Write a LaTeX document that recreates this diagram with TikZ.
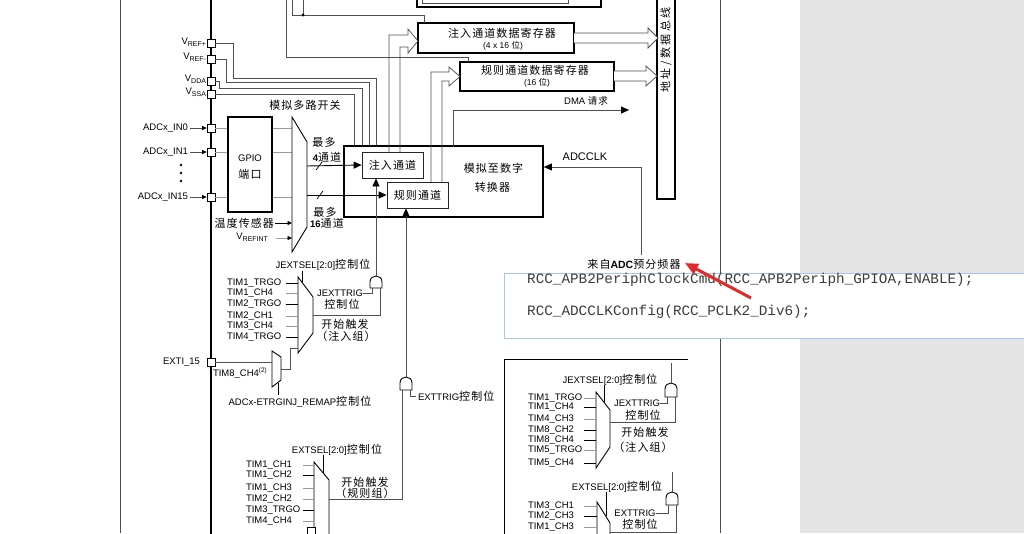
\documentclass[tikz,border=0pt]{standalone}
\usepackage{fontspec}
\setmainfont{Liberation Sans}
\newfontfamily\cjk[LetterSpace=10]{Noto Sans CJK SC}
\newfontfamily\codefont{Liberation Mono}
\usetikzlibrary{arrows.meta,calc}
\definecolor{wirec}{HTML}{505050}
\definecolor{lightw}{HTML}{9A9A9A}
\definecolor{bggray}{HTML}{E4E4E4}
\definecolor{codeborder}{HTML}{A8C6EC}
\definecolor{codetext}{HTML}{3C3C3C}
\definecolor{redarrow}{HTML}{E22A2A}
\newcommand{\labf}{\fontsize{9.5}{11}\selectfont}
\newcommand{\ck}[1]{{\cjk\fontsize{11}{12}\selectfont #1}}
\newcommand{\cks}[1]{{\cjk #1}}
\newcommand{\subx}[1]{\raisebox{-2.2pt}{\fontsize{7}{8}\selectfont #1}}
\newcommand{\supx}[1]{\raisebox{3.2pt}{\fontsize{6.5}{7}\selectfont #1}}
\newcommand{\andgate}[3]{\draw[gates] (#1-6,#3) -- (#1-6,#2+6) .. controls (#1-6,#2-2) and (#1+6,#2-2) .. (#1+6,#2+6) -- (#1+6,#3) -- cycle;}
\begin{document}
\begin{tikzpicture}[x=1pt,y=-1pt,
  lab/.style={font=\labf, inner sep=0pt, outer sep=0pt},
  thkbox/.style={draw=black, line width=1.6pt, fill=white, inner sep=0pt},
  thinbox/.style={draw=black!85, line width=0.8pt, fill=white, inner sep=0pt},
  pinbox/.style={draw=black, line width=0.7pt, fill=white, minimum size=8pt, inner sep=0pt},
  wire/.style={draw=wirec, line width=0.75pt},
  lwire/.style={draw=lightw, line width=0.75pt},
  dwire/.style={draw=black, line width=0.9pt},
  arr/.style={-{Triangle[length=8pt,width=7pt,color=black]}},
  sarr/.style={-{Triangle[length=4.5pt,width=4pt,color=black]}},
  muxs/.style={draw=black, line width=0.9pt, fill=white},
  gates/.style={draw=black, line width=0.9pt, fill=white},
  hollow/.style={draw=wirec, line width=0.75pt, fill=white},
]
\useasboundingbox (0,0) rectangle (1024,533);
\fill[white] (0,0) rectangle (800,533);
\fill[bggray] (800,0) rectangle (1024,533);
\draw[black!70, line width=0.8pt] (120,0) -- (120,533);
\draw[black!70, line width=0.8pt] (720,0) -- (720,533);
\draw[black, line width=1.7pt] (211,-2) -- (211,535);

% ---- top partial register
\draw[black, line width=1.6pt] (417,-3) -- (417,7) -- (601,7) -- (601,-3);
\draw[wirec, line width=0.7pt] (422,-3) -- (422,3) -- (568,3) -- (568,-3);

% ---- address / data bus
\node[thkbox, minimum width=18pt, minimum height=206pt] (bus) at (666,96) {};
\node[rotate=90, inner sep=0pt] (bustxt) at (666,50) {\ck{地\hspace{2.5pt}址\hspace{2.5pt}/\hspace{2.5pt}数\hspace{2.5pt}据\hspace{2.5pt}总\hspace{2.5pt}线}};

% ---- data registers
\node[thkbox, minimum width=156pt, minimum height=30pt] (injreg) at (496,38) {};
\node[lab] at (502,33) {\ck{注入通道数据寄存器}};
\node[lab, font=\fontsize{8.5}{9}\selectfont] at (503,45.5) {(4 x 16 \cks{位})};
\node[thkbox, minimum width=154pt, minimum height=29pt] (regreg) at (537,76.5) {};
\node[lab] at (535,70) {\ck{规则通道数据寄存器}};
\node[lab, font=\fontsize{8.5}{9}\selectfont] at (537,83) {(16 \cks{位})};

% register -> bus hollow arrows
\draw[hollow] (574,33) -- (648,33) -- (648,28) -- (658,38) -- (648,48) -- (648,43) -- (574,43);
\draw[hollow] (614,71) -- (646,71) -- (646,66) -- (657,76) -- (646,86) -- (646,81) -- (614,81);

% ---- top wires
\draw[wire] (292,-2) -- (292,15) -- (424,15) -- (424,23);
\draw[wire] (303,-2) -- (303,15);
\fill[black] (303,15) circle (1.6pt);
\draw[wire] (286,-2) -- (286,57) -- (468,57) -- (468,62);

% ---- pins
\node[pinbox] (vrp) at (211,43) {};
\node[pinbox] (vrm) at (211,59) {};
\node[pinbox] (vdda) at (211,81) {};
\node[pinbox] (vssa) at (211,94) {};
\node[lab, anchor=east] at (206,42) {V\subx{REF+}};
\node[lab, anchor=east] at (206,57) {V\subx{REF-}};
\node[lab, anchor=east] at (206,79) {V\subx{DDA}};
\node[lab, anchor=east] at (206,92) {V\subx{SSA}};

\draw[wire] (vrp.east) -- (233,43) -- (233,78) -- (376,78) -- (376,146);
\draw[wire] (vrm.east) -- (226,59) -- (226,82) -- (369,82) -- (369,146);
\draw[wire] (vdda.east) -- (219,81) -- (219,88) -- (362,88) -- (362,146);
\draw[wire] (vssa.east) -- (354,94) -- (354,146);

% ---- ADC box
\node[thkbox, minimum width=199pt, minimum height=71pt] (adc) at (443.5,181.5) {};
\node[lab] at (493.5,168) {\ck{模拟至数字}};
\node[lab] at (492.5,187) {\ck{转换器}};

% channel -> register hollow arrows
\draw[wire] (389,152) -- (389,35) -- (408,35) -- (408,29) -- (418,41) -- (408,53) -- (408,47) -- (400,47) -- (400,152);
\draw[wire] (431,182) -- (431,72) -- (449,72) -- (449,67) -- (460,76.5) -- (449,86) -- (449,81) -- (442,81) -- (442,182);

\node[thinbox, minimum width=61pt, minimum height=26pt] (injch) at (392.5,165) {\ck{注入通道}};
\node[thinbox, minimum width=61pt, minimum height=26pt] (regch) at (417.5,195) {\ck{规则通道}};

% DMA and ADCCLK
\coordinate (dmaend) at (629,110);
\draw[wire, arr] (453,146) -- (453,110) -- (dmaend);
\node[lab] at (586,101) {DMA \cks{请求}};
\coordinate (clksrc) at (641,255);
\coordinate (clkturn) at (641,167);
\draw[wire, arr] (clksrc) -- (clkturn) -- (adc.east |- clkturn);
\node[lab, font=\fontsize{11}{12}\selectfont] at (585,157) {ADCCLK};

% ---- analog inputs
\node[thkbox, minimum width=44pt, minimum height=95pt] (gpio) at (250,164.5) {};
\node[lab] at (250,158) {GPIO};
\node[lab] at (250,174) {\ck{端口}};

\foreach \nm/\yy/\tx in {in0/128/ADCx\_IN0, in1/152/ADCx\_IN1, in15/197/ADCx\_IN15}{
  \node[pinbox] (\nm) at (211,\yy) {};
  \node[lab, anchor=east] (\nm l) at (188,\yy) {\tx};
  \draw[wire, sarr] ($(\nm l.east)+(2,0)$) -- (\nm.west);
  \draw[lwire] (\nm.east) -- (\nm.east -| gpio.west);
  \draw[lwire] (\nm.east -| gpio.east) -- (292,\yy);
}
\foreach \yy in {165,173,181}{\fill[black] (181,\yy) circle (1.4pt);}

% analog mux
\draw[muxs] (292,117) -- (307,142) -- (307,227) -- (292,252) -- cycle;
\node[lab] at (305,105) {\ck{模拟多路开关}};
\node[lab, anchor=east] (temp) at (274,223) {\ck{温度传感器}};
\draw[dwire, sarr] ($(temp.east)+(1,0)$) -- (292,223);
\node[lab, anchor=east] (vrefint) at (268,237) {V\subx{REFINT}};
\draw[lwire, sarr] (276,238) -- (292,238);

\draw[dwire, arr] (307,166) -- (injch.west);
\draw[dwire, arr] (307,195) -- (regch.west);
\draw[black, line width=0.7pt] (316,170) -- (322,162);
\draw[black, line width=0.7pt] (317,199) -- (323,191);
\node[lab] at (324,142) {\ck{最多}};
\node[lab] at (327,157) {\textbf{4}\ck{通道}};
\node[lab] at (325,212) {\ck{最多}};
\node[lab] at (327,223) {\textbf{16}\ck{通道}};

% ---- injected trigger (left)
\node[lab] at (323,265) {JEXTSEL[2:0]\ck{控制位}};
\draw[muxs] (298,277) -- (313,297) -- (313,333) -- (298,353) -- cycle;
\draw[black, line width=0.75pt] (302,271) -- (302,282);
\foreach \t/\yy/\c in {TIM1\_TRGO/283/black, TIM1\_CH4/293/lightw, TIM2\_TRGO/304/black, TIM2\_CH1/316/lightw, TIM3\_CH4/326/lightw, TIM4\_TRGO/337/black}{
  \node[lab, anchor=west] at (227,\yy) {\t};
  \draw[\c, line width=0.8pt] (286,\yy) -- (298,\yy);
}
\coordinate (jg) at (376,276);
\andgate{376}{276}{288}
\draw[wire, arr] (jg) -- (jg |- injch.south);
\draw[wire] (313,315) -- (380,315) -- (380,288);
\node[lab] (jtrig) at (340,293) {JEXTTRIG};
\draw[wire] (jtrig.east) -- (372,293) -- (372,288);
\node[lab] at (342,304) {\ck{控制位}};
\node[lab] at (345,324) {\ck{开始触发}};
\node[lab] at (346,336) {\ck{（注入组）}};

% remap mux
\node[pinbox] (exti) at (211,362) {};
\node[lab, anchor=east] at (200,362) {EXTI\_15};
\draw[muxs] (272,351) -- (281,357) -- (281,380) -- (272,387) -- cycle;
\draw[wire] (exti.east) -- (272,362);
\node[lab, anchor=west] at (213,373) {TIM8\_CH4\supx{(2)}};
\draw[wire] (281,369) -- (290,369) -- (290,348) -- (298,348);
\draw[black, line width=0.75pt] (278,383) -- (278,395);
\node[lab] at (300,402) {ADCx-ETRGINJ\_REMAP\ck{控制位}};

% ---- regular trigger (left)
\coordinate (eg) at (406,377);
\andgate{406}{377}{390}
\draw[wire, arr] (eg) -- (eg |- regch.south);
\draw[wire] (410,390) -- (410,396) -- (416,396);
\node[lab, anchor=west] at (418,396) {EXTTRIG\ck{控制位}};
\node[lab] at (337,450) {EXTSEL[2:0]\ck{控制位}};
\draw[muxs] (314,540) -- (314,462) -- (329,480) -- (329,540);
\draw[black, line width=0.75pt] (323,455) -- (323,473);
\foreach \t/\yy/\c in {TIM1\_CH1/465/lightw, TIM1\_CH2/475/black, TIM1\_CH3/488/lightw, TIM2\_CH2/499/lightw, TIM3\_TRGO/510/black, TIM4\_CH4/521/lightw}{
  \node[lab, anchor=west] at (246,\yy) {\t};
  \draw[\c, line width=0.8pt] (303,\yy) -- (314,\yy);
}
\draw[black, line width=0.7pt, fill=white] (307,540) -- (307,527) -- (315,527) -- (315,540);
\draw[wire] (329,499) -- (402,499) -- (402,390);
\node[lab] at (365,482) {\ck{开始触发}};
\node[lab] at (365,493) {\ck{（规则组）}};

% ---- right inset
\draw[black, line width=0.9pt] (504,540) -- (504,359) -- (688,359);
\node[lab] at (610,380) {JEXTSEL[2:0]\ck{控制位}};
\draw[muxs] (596,392) -- (610,410) -- (610,447) -- (596,468) -- cycle;
\draw[black, line width=0.75pt] (604,385) -- (604,402);
\foreach \t/\yy/\c in {TIM1\_TRGO/398/lightw, TIM1\_CH4/407/black, TIM4\_CH3/419/lightw, TIM8\_CH2/430/black, TIM8\_CH4/440/black, TIM5\_TRGO/450/lightw, TIM5\_CH4/463/black}{
  \node[lab, anchor=west] at (528,\yy) {\t};
  \draw[\c, line width=0.8pt] (584,\yy) -- (596,\yy);
}
\coordinate (rjg) at (671,383);
\andgate{671}{383}{397}
\draw[wire] (rjg) -- (671,363);
\draw[wire] (610,422) -- (675,422) -- (675,397);
\node[lab] (rjtrig) at (637,403) {JEXTTRIG};
\draw[wire] (rjtrig.east) -- (667,403) -- (667,397);
\node[lab] at (643,415) {\ck{控制位}};
\node[lab] at (645,432) {\ck{开始触发}};
\node[lab] at (643,447) {\ck{（注入组）}};

\node[lab] at (617,487) {EXTSEL[2:0]\ck{控制位}};
\draw[muxs] (597,540) -- (597,502) -- (610,523) -- (610,540);
\draw[black, line width=0.75pt] (606,492) -- (606,516);
\foreach \t/\yy/\c in {TIM3\_CH1/506/lightw, TIM2\_CH3/516/black, TIM1\_CH3/527/lightw}{
  \node[lab, anchor=west] at (528,\yy) {\t};
  \draw[\c, line width=0.8pt] (584,\yy) -- (597,\yy);
}
\coordinate (reg2) at (672,492);
\andgate{672}{492}{505}
\draw[wire] (reg2) -- (672,472);
\node[lab] (rtrig) at (635,513) {EXTTRIG};
\draw[wire] (rtrig.east) -- (668,513) -- (668,505);
\node[lab] at (640,524) {\ck{控制位}};
\draw[wire] (610,532) -- (676,532) -- (676,505);

% ---- prescaler label, code overlay, red arrow
\node[lab] (presc) at (634,264) {\ck{来自}{\fontsize{10.5}{12}\selectfont\bfseries ADC}\ck{预分频器}};
\node[draw=codeborder, line width=1pt, fill=white, minimum width=530pt, minimum height=65pt, anchor=north west, inner sep=0pt] (code) at (504,273) {};
\node[anchor=west, inner sep=0pt, text=codetext, font=\codefont\fontsize{14.3}{16}\selectfont] (c1) at (527,280) {RCC\_APB2PeriphClockCmd(RCC\_APB2Periph\_GPIOA,ENABLE);};
\node[anchor=west, inner sep=0pt, text=codetext, font=\codefont\fontsize{14.3}{16}\selectfont] (c2) at (527,312) {RCC\_ADCCLKConfig(RCC\_PCLK2\_Div6);};
\coordinate (rtail) at (751,298);
\coordinate (rtip) at (685,263);
\draw[redarrow, line width=3pt, -{Triangle[length=13pt,width=11pt]}] (rtail) -- (rtip);
\end{tikzpicture}
\end{document}
